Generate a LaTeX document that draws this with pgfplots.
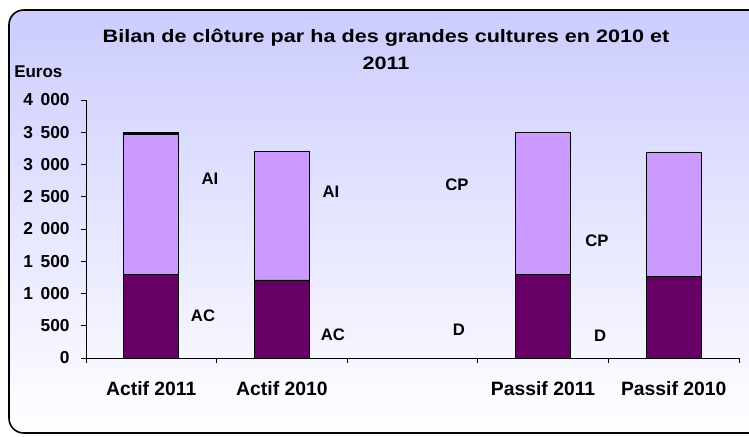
\documentclass[border=0pt]{standalone}
\usepackage{fontspec}
\setmainfont{Liberation Sans}
\newfontfamily\titlefont{Liberation Sans}[FakeStretch=1.2]
\usepackage{pgfplots}
\pgfplotsset{compat=1.18}
\definecolor{darkp}{RGB}{102,0,102}
\definecolor{lightp}{RGB}{204,153,255}
\definecolor{bgtop}{RGB}{204,204,255}
\begin{document}
\begin{tikzpicture}
\useasboundingbox (0,0) rectangle (561.75pt,327pt);
\fill[white] (0,0) rectangle (561.75pt,327pt);
\shade[top color=bgtop, bottom color=white, rounded corners=11pt] (6.75pt,2.25pt) rectangle (575pt,319.5pt);
\draw[black, line width=1.2pt, rounded corners=11pt] (6.75pt,2.25pt) rectangle (575pt,319.5pt);
\node[anchor=base, inner sep=0pt, font=\titlefont\fontsize{13.5}{16}\selectfont\bfseries] at (289.5pt,295pt) {Bilan de clôture par ha des grandes cultures en 2010 et};
\node[anchor=base, inner sep=0pt, font=\titlefont\fontsize{13.5}{16}\selectfont\bfseries] at (289.5pt,275pt) {2011};
\node[anchor=base west, inner sep=0pt, font=\fontsize{12.75}{15}\selectfont\bfseries] at (10.5pt,268.5pt) {Euros};
\begin{axis}[
  at={(64.5pt,58.5pt)}, anchor=south west,
  scale only axis, width=489.75pt, height=193.5pt,
  xmin=-0.5, xmax=4.5, ymin=0, ymax=4000,
  axis lines*=left,
  axis line style={black, line width=0.6pt},
  ybar stacked, bar width=0.42,
  xtick={-0.5,0.5,1.5,2.5,3.5,4.5},
  xticklabels={},
  major tick length=3.75pt,
  tick align=outside,
  tick style={black, line width=0.6pt},
  ytick={0,500,1000,1500,2000,2500,3000,3500,4000},
  yticklabels={0,500,1\hspace{0.45em}000,1\hspace{0.45em}500,2\hspace{0.45em}000,2\hspace{0.45em}500,3\hspace{0.45em}000,3\hspace{0.45em}500,4\hspace{0.45em}000},
  yticklabel style={font=\fontsize{13}{15}\selectfont\bfseries, xshift=-5pt},
  clip=false,
]
\addplot[fill=darkp, draw=black, line width=0.6pt] coordinates {(0,1290) (1,1210) (3,1290) (4,1260)};
\addplot[fill=lightp, draw=black, line width=0.6pt] coordinates {(0,2175) (1,1990) (3,2210) (4,1935)};
\addplot[fill=black, draw=black, line width=0.6pt] coordinates {(0,30) (1,0) (3,0) (4,0)};
\node[font=\fontsize{12.5}{15}\selectfont\bfseries, inner sep=0pt] at (axis cs:0.449,2775) {AI};
\node[font=\fontsize{12.5}{15}\selectfont\bfseries, inner sep=0pt] at (axis cs:0.396,651) {AC};
\node[font=\fontsize{12.5}{15}\selectfont\bfseries, inner sep=0pt] at (axis cs:1.376,2574) {AI};
\node[font=\fontsize{12.5}{15}\selectfont\bfseries, inner sep=0pt] at (axis cs:1.391,357) {AC};
\node[font=\fontsize{12.5}{15}\selectfont\bfseries, inner sep=0pt] at (axis cs:2.341,2682) {CP};
\node[font=\fontsize{12.5}{15}\selectfont\bfseries, inner sep=0pt] at (axis cs:2.356,434) {D};
\node[font=\fontsize{12.5}{15}\selectfont\bfseries, inner sep=0pt] at (axis cs:3.413,1814) {CP};
\node[font=\fontsize{12.5}{15}\selectfont\bfseries, inner sep=0pt] at (axis cs:3.436,341) {D};
\node[font=\fontsize{14.5}{17}\selectfont\bfseries, inner sep=0pt, anchor=base] at (axis cs:0,-585) {Actif 2011};
\node[font=\fontsize{14.5}{17}\selectfont\bfseries, inner sep=0pt, anchor=base] at (axis cs:1,-585) {Actif 2010};
\node[font=\fontsize{14.5}{17}\selectfont\bfseries, inner sep=0pt, anchor=base] at (axis cs:3,-585) {Passif 2011};
\node[font=\fontsize{14.5}{17}\selectfont\bfseries, inner sep=0pt, anchor=base] at (axis cs:4,-585) {Passif 2010};
\end{axis}
\end{tikzpicture}
\end{document}
